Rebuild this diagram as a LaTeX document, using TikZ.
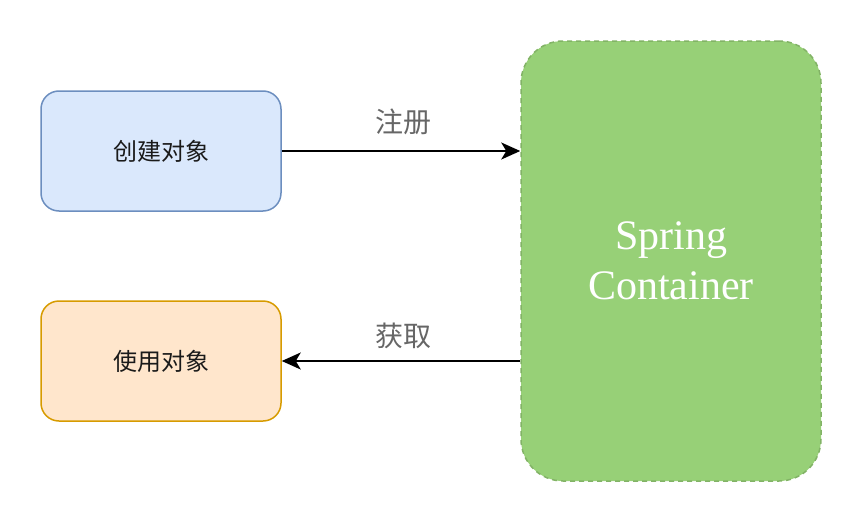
\documentclass[tikz,border=0pt]{standalone}
\usepackage{fontspec}
\setmainfont{Liberation Serif}
\newfontfamily\cjk{Noto Sans CJK SC}
\usetikzlibrary{arrows.meta}
\definecolor{bluefill}{HTML}{DAE8FC}
\definecolor{bluedraw}{HTML}{6C8EBF}
\definecolor{orangefill}{HTML}{FFE6CC}
\definecolor{orangedraw}{HTML}{D79B00}
\definecolor{greenfill}{HTML}{97D077}
\definecolor{greendraw}{HTML}{82B366}
\definecolor{labelgray}{HTML}{666666}
\definecolor{textdark}{HTML}{1A1A1A}
\tikzset{
  procbox/.style={rectangle, rounded corners=18pt, line width=1.5pt,
    minimum width=240pt, minimum height=120pt, inner sep=0pt,
    font=\cjk\fontsize{24}{29}\selectfont, text=textdark},
  container/.style={rectangle, rounded corners=42pt, line width=1.5pt,
    draw=greendraw, fill=greenfill, dash pattern=on 5pt off 4pt,
    minimum width=300pt, minimum height=440pt, inner sep=0pt,
    align=center, text=white, font=\fontsize{42}{50}\selectfont},
  flow/.style={line width=1.6pt, -{Stealth[length=19pt, width=17pt, inset=5pt]}},
  flowlabel/.style={font=\cjk\fontsize{28}{33}\selectfont, text=labelgray, inner sep=0pt}
}
\begin{document}
\begin{tikzpicture}[x=1pt, y=-1pt]
\useasboundingbox (0,0) rectangle (862,522);
\node[procbox, draw=bluedraw, fill=bluefill] (create) at (161,151) {创建对象};
\node[procbox, draw=orangedraw, fill=orangefill] (use) at (161,361) {使用对象};
\node[container] (spring) at (671,261) {Spring\\Container};
\draw[flow] (create.east) -- (create.east -| spring.west);
\draw[flow] (use.east -| spring.west) -- (use.east);
\node[flowlabel] (reg) at (403,122) {注册};
\node[flowlabel] (get) at (403,336) {获取};
\end{tikzpicture}
\end{document}
